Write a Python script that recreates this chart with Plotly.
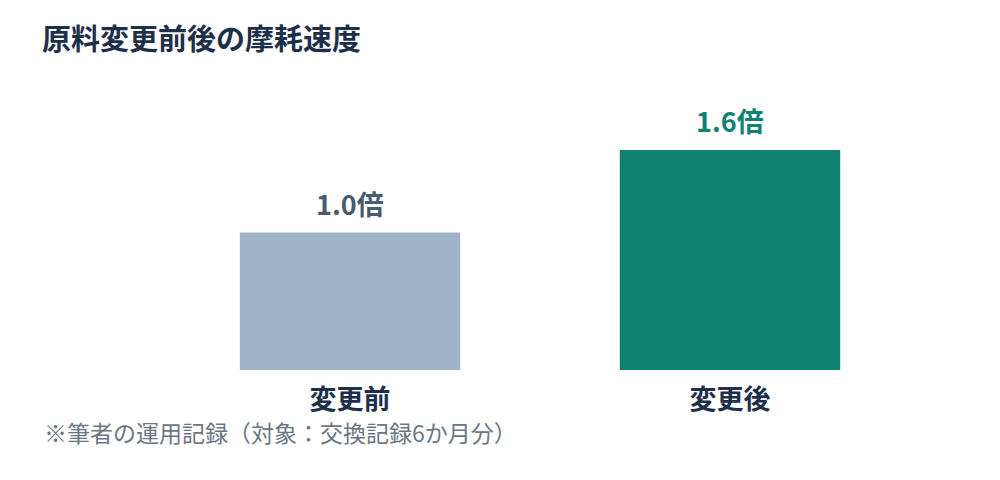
import plotly.graph_objects as go

categories = ["変更前", "変更後"]
values = [1.0, 1.6]
bar_colors = ["#9fb3c8", "#108274"]
label_colors = ["#4a5b70", "#108274"]

title = "原料変更前後の摩耗速度"
note = "※筆者の運用記録（対象：交換記録6か月分）"

fig = go.Figure()
fig.add_trace(go.Bar(
    x=categories,
    y=values,
    marker=dict(color=bar_colors, line=dict(width=0)),
    cliponaxis=False,
    hoverinfo="skip",
))

# value labels above bars
for cat, val, col in zip(categories, values, label_colors):
    fig.add_annotation(
        x=cat, y=val, text=f"<b>{val:.1f}倍</b>",
        xref="x", yref="y", xanchor="center", yanchor="bottom",
        yshift=8, showarrow=False,
        font=dict(size=27, color=col, family="Noto Sans CJK JP"),
    )

fig.update_layout(
    width=1000,
    height=480,
    margin=dict(l=152, r=88, t=87, b=118),
    paper_bgcolor="white",
    plot_bgcolor="white",
    bargap=0.42,
    showlegend=False,
    font=dict(family="Noto Sans CJK JP"),
    title=dict(
        text=f"<b>{title}</b>",
        x=0.034, xanchor="left", xref="container",
        y=0.933, yanchor="middle",
        font=dict(size=29, color="#1e2f4a"),
    ),
)
fig.update_xaxes(
    showgrid=False, showline=False, zeroline=False, ticks="",
    tickfont=dict(size=27, color="#1e2f4a", weight="bold"),
    ticklabelstandoff=11,
)
fig.update_yaxes(range=[0, 2], visible=False, showgrid=False, zeroline=False)

fig.add_annotation(
    text=note, xref="paper", yref="paper", x=-0.155, y=-0.2255,
    xanchor="left", yanchor="middle", showarrow=False,
    font=dict(size=23, color="#6b7685"),
)

fig.write_html("out.html")
